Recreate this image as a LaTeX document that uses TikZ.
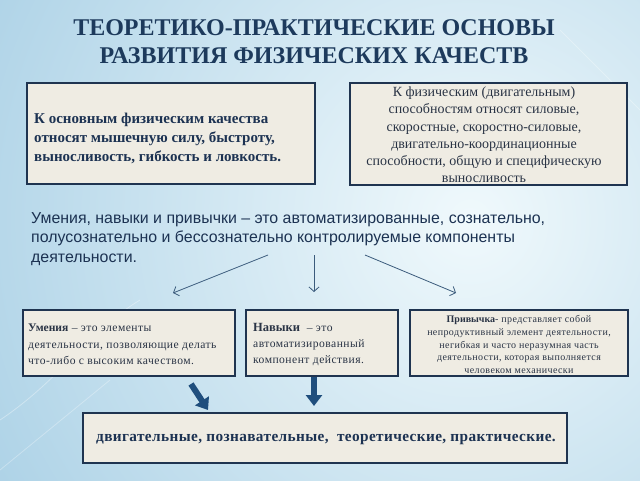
\documentclass[tikz,border=0pt]{standalone}
\usepackage{fontspec}
\setmainfont{Liberation Serif}
\newfontfamily\sansf{Liberation Sans}
\newfontfamily\widef[LetterSpace=4]{Liberation Serif}
\newfontfamily\slightf[LetterSpace=2.5]{Liberation Serif}
\usetikzlibrary{arrows.meta}
\definecolor{navy}{HTML}{1D3A5C}
\definecolor{txtnavy}{HTML}{1C3252}
\definecolor{graytxt}{HTML}{2A3445}
\definecolor{boxfill}{HTML}{EFECE3}
\definecolor{boxline}{HTML}{1F3450}
\definecolor{arrowblue}{HTML}{1F4E7D}
\definecolor{thinarrow}{HTML}{3B5B7C}
\definecolor{bgdark}{HTML}{8CBFDC}
\definecolor{bglight}{HTML}{F0F9FC}
\begin{document}
\begin{tikzpicture}[x=1pt,y=-1pt,
  box/.style={draw=boxline, line width=2pt, fill=boxfill, inner sep=0pt},
  boxtext/.style={inner sep=0pt, text=txtnavy},
  thinarr/.style={draw=thinarrow, line width=0.8pt, -{Straight Barb[length=4.5pt,width=10pt]}},
  fatarr/.style={draw=arrowblue, line width=6pt, -{Triangle[length=11pt,width=16pt]}}]
\useasboundingbox (0,0) rectangle (640,480);
\fill[bgdark] (0,0) rectangle (640,480);
\begin{scope}
\clip (0,0) rectangle (640,480);
\shade[inner color=bglight, outer color=bgdark] (470,220) circle (820);
\draw[white, opacity=0.35, line width=0.8pt] (0,420) .. controls (60,380) and (90,330) .. (140,300);
\draw[white, opacity=0.3, line width=0.8pt] (560,30) -- (640,110);
\draw[white, opacity=0.3, line width=0.8pt] (0,470) -- (110,380);
\end{scope}
% title
\node[text=navy, font={\fontsize{24}{28}\selectfont\bfseries}, align=center] (title) at (314,42)
  {ТЕОРЕТИКО-ПРАКТИЧЕСКИЕ ОСНОВЫ\\РАЗВИТИЯ ФИЗИЧЕСКИХ КАЧЕСТВ};
% top boxes
\node[box, minimum width=288, minimum height=101] (b1) at (171,133.5) {};
\node[boxtext, anchor=west, align=left, font={\fontsize{15}{19}\selectfont\bfseries}] (t1) at (34,138)
  {К основным физическим качества\\относят мышечную силу, быстроту,\\выносливость, гибкость и ловкость.};
\node[box, minimum width=277, minimum height=102] (b2) at (488.5,134) {};
\node[boxtext, align=center, text=graytxt, font={\fontsize{14}{17.2}\selectfont}] (t2) at (484,135)
  {К физическим (двигательным)\\способностям относят силовые,\\скоростные, скоростно-силовые,\\двигательно-координационные\\способности, общую и специфическую\\выносливость};
% statement
\node[anchor=north west, inner sep=0pt, align=left, text=txtnavy, font={\sansf\fontsize{15.9}{19.5}\selectfont}] (stmt) at (31,212)
  {Умения, навыки и привычки – это автоматизированные, сознательно,\\полусознательно и бессознательно контролируемые компоненты\\деятельности.};
% thin arrows
\coordinate (s1) at (268,255); \coordinate (e1) at (173,293);
\coordinate (s2) at (314,255); \coordinate (e2) at (314,292);
\coordinate (s3) at (365,255); \coordinate (e3) at (456,293);
\draw[thinarr] (s1) -- (e1);
\draw[thinarr] (s2) -- (e2);
\draw[thinarr] (s3) -- (e3);
% middle boxes
\node[box, minimum width=212, minimum height=66] (b3) at (128.5,343) {};
\node[boxtext, anchor=west, align=left, text=graytxt, font={\widef\fontsize{11.6}{16.5}\selectfont}] (t3) at (28,344.5)
  {{\rmfamily\bfseries Умения} – это элементы\\деятельности, позволяющие делать\\что-либо с высоким качеством.};
\node[box, minimum width=152, minimum height=66] (b4) at (322,343) {};
\node[boxtext, anchor=west, align=left, text=graytxt, font={\widef\fontsize{11.6}{16}\selectfont}] (t4) at (253,344.5)
  {{\rmfamily\fontsize{12.5}{16}\selectfont\bfseries Навыки} \ – это\\автоматизированный\\компонент действия.};
\node[box, minimum width=218, minimum height=66] (b5) at (519,343) {};
\node[boxtext, align=center, text=graytxt, font={\widef\fontsize{10}{12.8}\selectfont}] (t5) at (519,344.5)
  {{\rmfamily\bfseries Привычка}- представляет собой\\непродуктивный элемент деятельности,\\негибкая и часто неразумная часть\\деятельности, которая выполняется\\человеком механически};
% bottom box
\node[box, minimum width=484, minimum height=50] (b6) at (325,438) {};
\node[boxtext, font={\slightf\fontsize{15.3}{18}\selectfont\bfseries}] (t6) at (326,440)
  {двигательные, познавательные, \ теоретические, практические.};
% fat arrows
\coordinate (f1s) at (191,384); \coordinate (f1e) at (208,410);
\coordinate (f2s) at (314,377); \coordinate (f2e) at (314,406);
\draw[fatarr] (f1s) -- (f1e);
\draw[fatarr] (f2s) -- (f2e);
\end{tikzpicture}
\end{document}
